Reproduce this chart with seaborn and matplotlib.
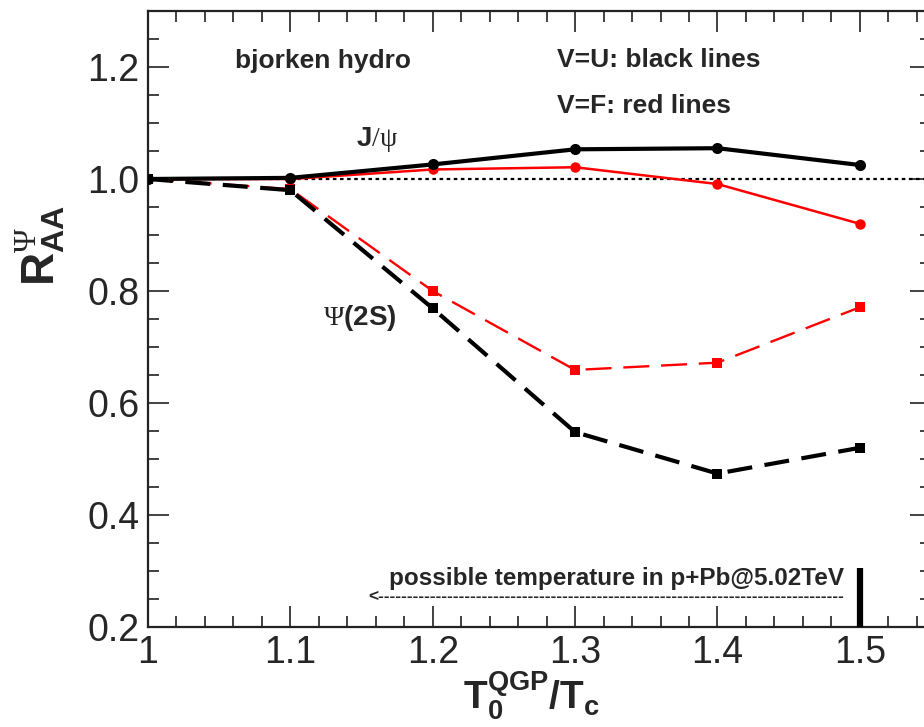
import matplotlib
matplotlib.use("Agg")
import matplotlib.pyplot as plt
import seaborn as sns
import pandas as pd
import numpy as np

# ---- data ----
t_ratio = [1.0, 1.1, 1.2, 1.3, 1.4, 1.5]
jpsi_U = [1.0, 1.002, 1.026, 1.053, 1.055, 1.025]
jpsi_F = [1.0, 1.000, 1.017, 1.021, 0.991, 0.920]
psi2s_U = [1.0, 0.980, 0.769, 0.548, 0.474, 0.520]
psi2s_F = [1.0, 0.982, 0.800, 0.659, 0.672, 0.771]
x_ticks = [1.0, 1.1, 1.2, 1.3, 1.4, 1.5]
x_ticklabels = ["1", "1.1", "1.2", "1.3", "1.4", "1.5"]
y_ticks = [0.2, 0.4, 0.6, 0.8, 1.0, 1.2]
y_ticklabels = ["0.2", "0.4", "0.6", "0.8", "1.0", "1.2"]

sns.set_style("ticks")
plt.rcParams["font.family"] = ["Liberation Sans", "DejaVu Sans"]
plt.rcParams["mathtext.fontset"] = "custom"
plt.rcParams["mathtext.rm"] = "Liberation Serif"
plt.rcParams["mathtext.it"] = "Liberation Serif:italic"
plt.rcParams["mathtext.bf"] = "Liberation Sans:bold"
plt.rcParams["mathtext.sf"] = "Liberation Sans"

fig = plt.figure(figsize=(9.24, 7.27), dpi=100)
ax = fig.add_axes([148/924, 100/727, (931-148)/924, (627-11)/727])

df = pd.DataFrame({"x": t_ratio, "jU": jpsi_U, "jF": jpsi_F, "pU": psi2s_U, "pF": psi2s_F})

# reference dotted line at 1
ax.plot([1.0, 1.55], [1.0, 1.0], color="black", lw=1.6, linestyle=(0, (1.6, 1.6)), zorder=1)

sns.lineplot(data=df, x="x", y="pF", ax=ax, color="red", lw=1.7, linestyle=(0, (11, 5)),
             marker="s", markersize=7, markeredgewidth=0, zorder=3)
sns.lineplot(data=df, x="x", y="pU", ax=ax, color="black", lw=3.0, linestyle=(0, (6, 3)),
             marker="s", markersize=7, markeredgewidth=0, zorder=3)
sns.lineplot(data=df, x="x", y="jF", ax=ax, color="red", lw=1.8,
             marker="o", markersize=7.5, markeredgewidth=0, zorder=4)
sns.lineplot(data=df, x="x", y="jU", ax=ax, color="black", lw=3.0,
             marker="o", markersize=8, markeredgewidth=0, zorder=5)

ax.set_xlim(1.0, 1.55)
ax.set_ylim(0.2, 1.3)

ax.set_xticks(x_ticks)
ax.set_xticklabels(x_ticklabels)
ax.set_yticks(y_ticks)
ax.set_yticklabels(y_ticklabels)
ax.set_xticks(np.arange(1.0, 1.5501, 0.02), minor=True)
ax.set_yticks(np.arange(0.2, 1.3001, 0.05), minor=True)

ax.tick_params(which="both", direction="in", top=True, right=True, color="#333333")
ax.tick_params(which="major", length=15, width=1.3, labelsize=27, pad=6)
ax.tick_params(which="minor", length=8, width=1.3)
for s in ax.spines.values():
    s.set_linewidth(1.6)
    s.set_color("#222222")

ax.set_xlabel(r"$\mathbf{T_0^{QGP}/T_c}$", fontsize=28)
ax.xaxis.set_label_coords(0.49, -0.112)
ax.xaxis.label.set_va("center")
ax.set_ylabel(r"$\mathbf{R}^{\mathrm{\Psi}}_{\mathbf{AA}}$", fontsize=33, rotation=90)
ax.yaxis.set_label_coords(-0.138, 0.62)
ax.yaxis.label.set_va("center")

ax.text(1.061, 1.211, "bjorken hydro", fontsize=19, fontweight="bold", va="center", ha="left")
ax.text(1.287, 1.2125, "V=U: black lines", fontsize=19, fontweight="bold", va="center", ha="left")
ax.text(1.287, 1.130, "V=F: red lines", fontsize=19, fontweight="bold", va="center", ha="left")
ax.text(1.146, 1.070, r"$\mathbf{J}\mathrm{/\psi}$", fontsize=20, va="center", ha="left")
ax.text(1.123, 0.752, r"$\mathrm{\Psi}\mathbf{(2S)}$", fontsize=20, va="center", ha="left")
ax.text(1.169, 0.2875, "possible temperature in p+Pb@5.02TeV", fontsize=17.5, fontweight="bold",
        va="center", ha="left")
ax.text(1.155, 0.254, "<" + "-" * 81, fontsize=12.5, fontweight="bold", va="center", ha="left")
ax.plot([1.5, 1.5], [0.2, 0.305], color="black", lw=4.5, solid_capstyle="butt", zorder=6)

ax.set_facecolor("white")
fig.patch.set_facecolor("white")
fig.savefig("out.png", dpi=100)
